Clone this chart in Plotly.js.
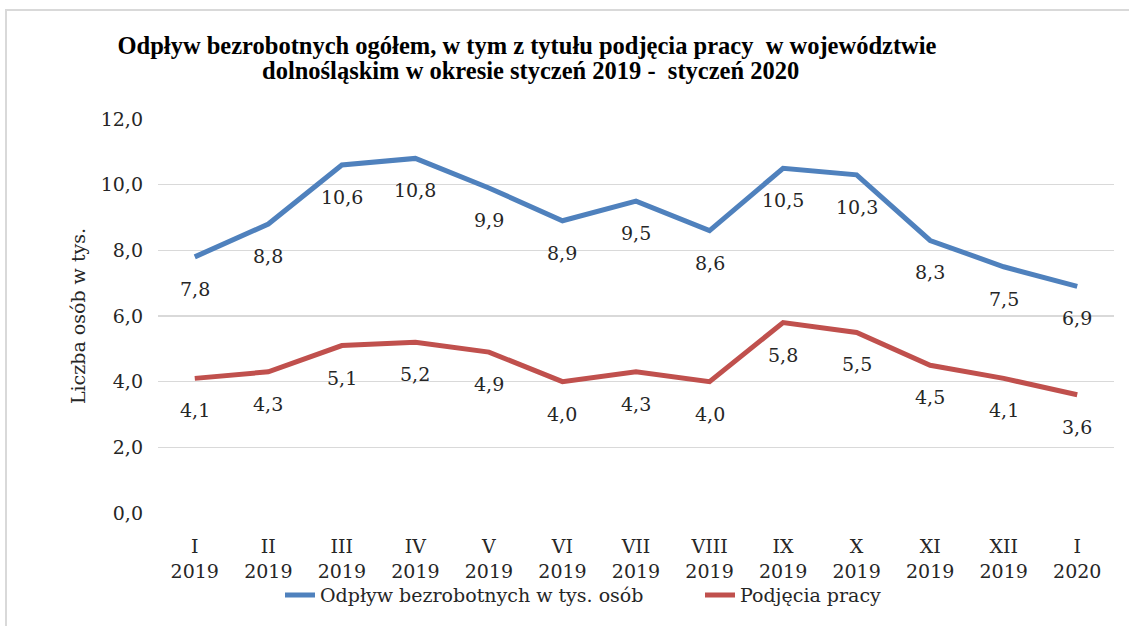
<!DOCTYPE html>
<html>
<head>
<meta charset="utf-8">
<script src="https://cdn.plot.ly/plotly-3.0.1.min.js"></script>
<style>
  html, body { margin: 0; padding: 0; background: #ffffff; }
  #chart { width: 1129px; height: 626px; position: relative; }
  #frame { position: absolute; left: 5px; top: 9px; width: 1200px; height: 700px;
           border-top: 2px solid #d9d9d9; border-left: 2px solid #d9d9d9; pointer-events: none; }
</style>
</head>
<body>
<div id="chart"></div>
<div id="frame"></div>
<script>
const months = ["I", "II", "III", "IV", "V", "VI", "VII", "VIII", "IX", "X", "XI", "XII", "I"];
const years = ["2019", "2019", "2019", "2019", "2019", "2019", "2019", "2019", "2019", "2019", "2019", "2019", "2020"];
const outflow = [7.8, 8.8, 10.6, 10.8, 9.9, 8.9, 9.5, 8.6, 10.5, 10.3, 8.3, 7.5, 6.9];
const jobs = [4.1, 4.3, 5.1, 5.2, 4.9, 4.0, 4.3, 4.0, 5.8, 5.5, 4.5, 4.1, 3.6];
const seriesNames = ["Odpływ bezrobotnych w tys. osób", "Podjęcia pracy"];
const yTicks = [0, 2, 4, 6, 8, 10, 12];
const titleLines = ["Odpływ bezrobotnych ogółem, w tym z tytułu podjęcia pracy  w województwie",
                    "dolnośląskim w okresie styczeń 2019 -  styczeń 2020"];

const cats = months.map((m, i) => m + "<br>" + years[i]);
const idx = cats.map((_, i) => i);
const fmt = v => v.toFixed(1).replace(".", ",");

const FONT = "DejaVu Serif, Liberation Serif, serif";
const TFONT = "Liberation Serif, serif";
const TXT = "#262626";
const FS = 19;

const L = 158, R = 15, T = 119, B = 109, W = 1129, H = 626;
const pw = W - L - R, ph = H - T - B;
const px2x = p => (p - L) / pw;
const py2y = p => (H - B - p) / ph;

const traces = [
  { x: idx, y: outflow, name: seriesNames[0], type: "scatter", mode: "lines",
    line: { color: "#4f81bd", width: 5 }, legend: "legend" },
  { x: idx, y: jobs, name: seriesNames[1], type: "scatter", mode: "lines",
    line: { color: "#c0504d", width: 5 }, legend: "legend2" }
];

const annotations = [];
[outflow, jobs].forEach(arr => {
  arr.forEach((v, i) => {
    annotations.push({ x: i, y: v, xref: "x", yref: "y", text: fmt(v), showarrow: false,
      yshift: -32, font: { family: FONT, size: FS, color: TXT } });
  });
});
annotations.push({ x: px2x(530), y: py2y(70), xref: "paper", yref: "paper", xanchor: "center", yanchor: "middle",
  text: "<b>" + titleLines[1] + "</b>", showarrow: false,
  font: { family: TFONT, size: 24.5, color: "#000000" } });

const legendBase = { orientation: "h", yanchor: "middle", xanchor: "left", y: py2y(600),
  font: { family: FONT, size: FS, color: TXT }, bgcolor: "rgba(0,0,0,0)" };

const layout = {
  width: W, height: H,
  margin: { l: L, r: R, t: T, b: B },
  paper_bgcolor: "#ffffff", plot_bgcolor: "#ffffff",
  title: { text: "<b>" + titleLines[0] + "</b>",
    x: 527 / W, xanchor: "center", xref: "container", y: 1 - 45 / H, yanchor: "middle", yref: "container",
    font: { family: TFONT, size: 24.5, color: "#000000" } },
  xaxis: { type: "linear", range: [-0.5, 12.5], tickmode: "array", tickvals: idx, ticktext: cats,
    showgrid: false, zeroline: false, showline: false, ticks: "", ticklabelstandoff: 20,
    tickfont: { family: FONT, size: FS, color: TXT } },
  yaxis: { range: [0, 12], tickmode: "array", tickvals: yTicks, ticktext: yTicks.map(fmt),
    showgrid: true, gridcolor: "#d9d9d9", gridwidth: 1.5, zeroline: false, showline: false, ticks: "",
    ticklabelstandoff: 14,
    tickfont: { family: FONT, size: FS, color: TXT },
    title: { text: "Liczba osób w tys.", standoff: 10, font: { family: FONT, size: FS, color: TXT } } },
  showlegend: true,
  legend: Object.assign({}, legendBase, { x: px2x(280) }),
  legend2: Object.assign({}, legendBase, { x: px2x(700) }),
  annotations: annotations
};

Plotly.newPlot("chart", traces, layout, { displayModeBar: false, staticPlot: true });
</script>
</body>
</html>
